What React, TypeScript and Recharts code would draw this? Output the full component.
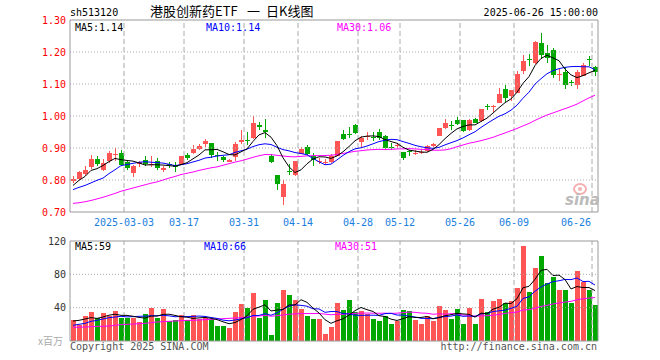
import React from 'react';
import { ComposedChart, Bar, Line, XAxis, YAxis, ReferenceLine } from 'recharts';

const RED = '#ff5555';
const GREEN = '#00a800';
const MONO = '"DejaVu Sans Mono", monospace';
const CJK = '"Noto Sans CJK SC", sans-serif';

const dates = [
  '02-18','02-19','02-20','02-21','02-24','02-25','02-26','02-27','02-28',
  '03-03','03-04','03-05','03-06','03-07','03-10','03-11','03-12','03-13','03-14',
  '03-17','03-18','03-19','03-20','03-21','03-24','03-25','03-26','03-27','03-28',
  '03-31','04-01','04-02','04-03','04-07','04-08','04-09','04-10','04-11',
  '04-14','04-15','04-16','04-17','04-18','04-21','04-22','04-23','04-24','04-25',
  '04-28','04-29','04-30','05-06','05-07','05-08','05-09',
  '05-12','05-13','05-14','05-15','05-16','05-19','05-20','05-21','05-22','05-23',
  '05-26','05-27','05-28','05-29','05-30','06-03','06-04','06-05','06-06',
  '06-09','06-10','06-11','06-12','06-13','06-16','06-17','06-18','06-19','06-20',
  '06-23','06-24','06-25','06-26',
];

const opens = [
  0.798,0.804,0.820,0.840,0.867,0.830,0.860,0.877,0.884,0.855,
  0.822,0.851,0.864,0.847,0.860,0.830,0.850,0.848,0.848,0.879,
  0.884,0.898,0.914,0.916,0.877,0.871,0.857,0.872,0.918,0.924,
  0.931,0.971,0.955,0.874,0.815,0.747,0.828,0.815,0.882,0.903,
  0.876,0.857,0.855,0.857,0.876,0.944,0.945,0.971,0.919,0.934,
  0.935,0.950,0.939,0.904,0.907,0.888,0.890,0.882,0.884,0.890,
  0.905,0.939,0.962,0.972,0.989,0.986,0.955,0.991,0.983,1.031,
  1.029,1.041,1.084,1.061,1.072,1.140,1.178,1.166,1.228,1.197,
  1.205,1.127,1.137,1.106,1.098,1.124,1.178,1.152,
];
const highs = [
  0.812,0.827,0.845,0.877,0.874,0.867,0.890,0.900,0.895,0.864,
  0.848,0.860,0.874,0.876,0.869,0.845,0.855,0.856,0.876,0.884,
  0.910,0.913,0.929,0.916,0.888,0.876,0.867,0.920,0.957,0.950,
  0.999,0.981,0.991,0.882,0.815,0.801,0.850,0.860,0.903,0.908,
  0.884,0.869,0.866,0.881,0.921,0.957,0.965,0.976,0.936,0.949,
  0.949,0.959,0.942,0.916,0.917,0.888,0.895,0.893,0.893,0.910,
  0.916,0.964,0.991,0.983,0.997,0.986,0.991,0.994,1.023,1.039,
  1.035,1.088,1.098,1.082,1.140,1.192,1.195,1.233,1.259,1.221,
  1.213,1.147,1.153,1.114,1.143,1.166,1.189,1.155,
];
const lows = [
  0.792,0.801,0.811,0.835,0.843,0.827,0.853,0.858,0.843,0.832,
  0.809,0.840,0.843,0.841,0.830,0.825,0.838,0.825,0.848,0.864,
  0.882,0.895,0.903,0.869,0.860,0.856,0.855,0.858,0.914,0.910,
  0.928,0.955,0.931,0.853,0.768,0.723,0.817,0.811,0.882,0.879,
  0.843,0.850,0.848,0.853,0.874,0.926,0.931,0.945,0.903,0.926,
  0.923,0.926,0.895,0.895,0.900,0.864,0.876,0.878,0.880,0.887,
  0.903,0.937,0.959,0.957,0.973,0.949,0.952,0.978,0.980,1.018,
  1.011,1.041,1.043,1.046,1.072,1.131,1.157,1.164,1.178,1.166,
  1.119,1.108,1.084,1.093,1.084,1.124,1.157,1.124,
];
const closes = [
  0.803,0.824,0.832,0.867,0.851,0.853,0.884,0.882,0.848,0.838,
  0.843,0.855,0.851,0.851,0.838,0.838,0.847,0.841,0.876,0.869,
  0.898,0.907,0.921,0.877,0.875,0.861,0.864,0.914,0.926,0.921,
  0.978,0.966,0.949,0.855,0.788,0.789,0.825,0.860,0.897,0.882,
  0.864,0.860,0.857,0.874,0.921,0.929,0.942,0.947,0.931,0.937,
  0.932,0.931,0.900,0.901,0.910,0.869,0.887,0.885,0.887,0.905,
  0.914,0.962,0.978,0.969,0.976,0.952,0.986,0.978,1.023,1.028,
  1.031,1.070,1.056,1.082,1.132,1.171,1.174,1.230,1.192,1.182,
  1.129,1.131,1.098,1.103,1.139,1.160,1.175,1.136,
];
const volumes = [
  24.8,18.8,29.6,34.4,28,33.2,29.6,35.6,27.6,27.6,
  28,22.4,32,39.2,28,38,23.6,24.8,30.8,25.6,
  30.8,26.8,27.2,26,17.6,17.6,15.2,34.4,44,39.6,
  57.4,27.6,48.8,6.8,45.2,60.8,54.8,48.8,38,29.6,
  26,26,8,16.4,45.2,36.8,48.8,34.8,35.6,32,
  26,23.6,29.6,20,24,36.8,35.6,24.8,20,29.6,
  23.6,41.6,36.8,26,38,20,39.2,20,50,34.4,
  47.6,50,45.2,47.6,63.2,113.6,58.4,87.2,101.6,69.2,
  76.4,60.8,60.8,45.2,83.6,70.4,60.8,42.8,
];

// moving-average values for the first days (window not yet full)
const ma5PriceLead = [0.783, 0.799, 0.811, 0.830];
const ma10PriceLead = [0.770, 0.777, 0.783, 0.791, 0.799, 0.806, 0.820, 0.832, 0.845];
const ma30PriceLead = [
  0.727,0.729,0.732,0.736,0.741,0.746,0.752,0.758,0.765,0.770,
  0.775,0.780,0.785,0.790,0.794,0.800,0.806,0.811,0.817,0.821,
  0.825,0.830,0.834,0.838,0.841,0.846,0.851,0.856,0.860,
];
const ma5VolLead = [24, 24.8, 26.4, 28];
const ma10VolLead = [18.8, 20, 21.2, 23.6, 24.8, 26.4, 28, 28.8, 29.6];
const ma30VolLead = [
  16.4,16.6,16.8,17.2,17.6,17.6,18.0,18.8,19.6,20.0,
  20.4,20.8,21.2,22.0,22.8,23.2,23.6,24.0,24.4,24.8,
  24.8,25.2,25.6,26.0,26.4,26.8,27.2,27.6,28.0,
];

const priceTicks = [0.7, 0.8, 0.9, 1.0, 1.1, 1.2, 1.3];
const priceGrid = [0.8, 0.9, 1.0, 1.1, 1.2];
const volTicks = [40, 80, 120];
const volGrid = [40, 80];
const dateTicks = ['03-03','03-17','03-31','04-14','04-28','05-12','05-26','06-09','06-26'];
const dateTickLabels = ['2025-03-03','03-17','03-31','04-14','04-28','05-12','05-26','06-09','06-26'];

const titleParts = ['港股创新药ETF', '一', '日K线图'];
const priceLegend = ['MA5:1.14', 'MA10:1.14', 'MA30:1.06'];
const volLegend = ['MA5:59', 'MA10:66', 'MA30:51'];

function movingAverage(values: number[], n: number, lead: number[]) {
  return values.map((_, i) => {
    if (i < n - 1) return lead[i];
    let s = 0;
    for (let k = i - n + 1; k <= i; k++) s += values[k];
    return s / n;
  });
}

const pMa5 = movingAverage(closes, 5, ma5PriceLead);
const pMa10 = movingAverage(closes, 10, ma10PriceLead);
const pMa30 = movingAverage(closes, 30, ma30PriceLead);
const vMa5 = movingAverage(volumes, 5, ma5VolLead);
const vMa10 = movingAverage(volumes, 10, ma10VolLead);
const vMa30 = movingAverage(volumes, 30, ma30VolLead);

const priceData = dates.map((d, i) => ({
  date: d,
  range: [lows[i], highs[i]],
  open: opens[i], close: closes[i], high: highs[i], low: lows[i],
  ma5: pMa5[i], ma10: pMa10[i], ma30: pMa30[i],
}));
const volData = dates.map((d, i) => ({
  date: d,
  vol: volumes[i],
  up: closes[i] >= opens[i],
  ma5: vMa5[i], ma10: vMa10[i], ma30: vMa30[i],
}));

function CandleShape(props: any) {
  const { x, y, width, height, payload } = props;
  if (x == null || payload == null) return null;
  const { open, close, high, low } = payload;
  const color = close >= open ? RED : GREEN;
  const top = Math.min(y, y + height);
  const h = Math.abs(height);
  const span = high - low;
  const toPx = (v: number) => (span > 0 ? top + ((high - v) / span) * h : top);
  const left = Math.floor(x + width / 2 - 2.5);
  const bTop = Math.round(Math.min(toPx(open), toPx(close)));
  const bBot = Math.round(Math.max(toPx(open), toPx(close)));
  const wTop = Math.round(top);
  const wBot = Math.round(top + h);
  return (
    <g shapeRendering="crispEdges">
      <rect x={left + 2} y={wTop} width={1} height={Math.max(1, wBot - wTop)} fill={color} />
      <rect x={left} y={bTop} width={5} height={Math.max(1, bBot - bTop)} fill={color} />
    </g>
  );
}

function VolShape(props: any) {
  const { x, y, width, height, payload } = props;
  if (x == null || payload == null) return null;
  const left = Math.floor(x + width / 2 - 2.5);
  const t = Math.round(Math.min(y, y + height));
  const b = Math.round(Math.max(y, y + height));
  return (
    <rect shapeRendering="crispEdges" x={left} y={t} width={5} height={Math.max(0, b - t)}
      fill={payload.up ? RED : GREEN} />
  );
}

function DateTick(props: any) {
  const { x, payload } = props;
  const idx = dateTicks.indexOf(payload.value);
  const label = idx >= 0 ? dateTickLabels[idx] : payload.value;
  const cx = x - 3;
  const w = label.length * 6.02;
  let anchor: any = 'middle';
  let tx = cx;
  if (cx + w / 2 > 591) { anchor = 'end'; tx = 591; }
  return (
    <text x={tx} y={225.5} textAnchor={anchor} fill="#1a80e0" fontFamily={MONO} fontSize={10}>{label}</text>
  );
}

function PriceTick(props: any) {
  const { y, payload } = props;
  return (
    <text x={66} y={y + 3.5} textAnchor="end" fill="#ff0000" fontFamily={MONO} fontSize={10}>
      {Number(payload.value).toFixed(2)}
    </text>
  );
}

function VolTick(props: any) {
  const { y, payload } = props;
  return (
    <text x={66} y={y + 3.5} textAnchor="end" fill="#333" fontFamily={MONO} fontSize={10}>
      {payload.value}
    </text>
  );
}

const FRAME = '#999';
const GRIDC = '#aaa';

export default function App() {
  return (
    <div style={{ position: 'absolute', left: 0, top: 0, width: 660, height: 360, background: '#fff' }}>
      <div style={{ position: 'absolute', left: 0, top: 0 }}>
        <ComposedChart width={660} height={242} data={priceData}
          margin={{ top: 20, right: 62, bottom: 0, left: 0 }}>
          <XAxis dataKey="date" ticks={dateTicks} interval={0} tick={<DateTick />}
            axisLine={false} tickLine={false} height={30} />
          <YAxis type="number" domain={[0.7, 1.3]} ticks={priceTicks} width={70}
            axisLine={false} tickLine={false} tick={<PriceTick />} allowDataOverflow />
          {priceGrid.map((v) => (
            <ReferenceLine key={'pg' + v} y={v} stroke={GRIDC} strokeDasharray="1 2" />
          ))}
          {dateTicks.map((d) => (
            <ReferenceLine key={'pv' + d} x={d} position="start" stroke={GRIDC} strokeDasharray="5 3" />
          ))}
          <ReferenceLine y={1.3} stroke={FRAME} />
          <ReferenceLine y={0.7} stroke={FRAME} />
          <ReferenceLine x={dates[0]} position="start" stroke={FRAME} />
          <ReferenceLine x={dates[dates.length - 1]} position="end" stroke={FRAME} />
          <Bar dataKey="range" barSize={5} shape={<CandleShape />} isAnimationActive={false} />
          <Line type="linear" dataKey="ma30" stroke="#ff00ff" strokeWidth={1} dot={false} isAnimationActive={false} />
          <Line type="linear" dataKey="ma10" stroke="#0000ff" strokeWidth={1} dot={false} isAnimationActive={false} />
          <Line type="linear" dataKey="ma5" stroke="#000000" strokeWidth={1} dot={false} isAnimationActive={false} />
        </ComposedChart>
      </div>
      <div style={{ position: 'absolute', left: 0, top: 230 }}>
        <ComposedChart width={660} height={130} data={volData}
          margin={{ top: 11, right: 62, bottom: 19, left: 0 }}>
          <XAxis dataKey="date" hide />
          <YAxis type="number" domain={[0, 120]} ticks={volTicks} width={70}
            axisLine={false} tickLine={false} tick={<VolTick />} allowDataOverflow />
          {volGrid.map((v) => (
            <ReferenceLine key={'vg' + v} y={v} stroke={GRIDC} strokeDasharray="1 2" />
          ))}
          {dateTicks.map((d) => (
            <ReferenceLine key={'vv' + d} x={d} position="start" stroke={GRIDC} strokeDasharray="5 3" />
          ))}
          <ReferenceLine y={120} stroke={FRAME} />
          <ReferenceLine y={0} stroke={FRAME} />
          <ReferenceLine x={dates[0]} position="start" stroke={FRAME} />
          <ReferenceLine x={dates[dates.length - 1]} position="end" stroke={FRAME} />
          <Bar dataKey="vol" barSize={5} shape={<VolShape />} isAnimationActive={false} />
          <Line type="linear" dataKey="ma30" stroke="#ff00ff" strokeWidth={1} dot={false} isAnimationActive={false} />
          <Line type="linear" dataKey="ma10" stroke="#0000ff" strokeWidth={1} dot={false} isAnimationActive={false} />
          <Line type="linear" dataKey="ma5" stroke="#000000" strokeWidth={1} dot={false} isAnimationActive={false} />
        </ComposedChart>
      </div>
      <svg width={660} height={360} style={{ position: 'absolute', left: 0, top: 0, pointerEvents: 'none' }}>
        <text x={70} y={16} fontFamily={MONO} fontSize={10} fill="#000">sh513120</text>
        <text x={150} y={16} fontFamily={CJK} fontSize={13} fill="#000">{titleParts[0]}</text>
        <text x={247} y={16} fontFamily={CJK} fontSize={13} fill="#000">{titleParts[1]}</text>
        <text x={266} y={16} fontFamily={CJK} fontSize={13} fill="#000">{titleParts[2]}</text>
        <text x={598} y={16} textAnchor="end" fontFamily={MONO} fontSize={10} fill="#000">2025-06-26 15:00:00</text>

        <text x={75} y={30.5} fontFamily={MONO} fontSize={10} fill="#000">{priceLegend[0]}</text>
        <text x={206} y={30.5} fontFamily={MONO} fontSize={10} fill="#0000ff">{priceLegend[1]}</text>
        <text x={337} y={30.5} fontFamily={MONO} fontSize={10} fill="#ff00ff">{priceLegend[2]}</text>

        <text x={75} y={250} fontFamily={MONO} fontSize={10} fill="#000">{volLegend[0]}</text>
        <text x={204} y={250} fontFamily={MONO} fontSize={10} fill="#0000ff">{volLegend[1]}</text>
        <text x={335} y={250} fontFamily={MONO} fontSize={10} fill="#ff00ff">{volLegend[2]}</text>

        <text x={38} y={345} fontFamily={CJK} fontSize={10} fill="#aaa">x百万</text>
        <text x={70} y={349.5} fontFamily={MONO} fontSize={10} fill="#555">Copyright 2025 SINA.COM</text>
        <text x={597} y={349.5} textAnchor="end" fontFamily={MONO} fontSize={10} fill="#555">http://finance.sina.com.cn</text>

        <ellipse cx={580} cy={189} rx={6} ry={5} fill="none" stroke="#f4b0b0" strokeWidth={2} />
        <circle cx={580} cy={189} r={2} fill="#f4b0b0" />
        <text x={565} y={205} fontFamily='"DejaVu Sans", sans-serif' fontStyle="italic" fontWeight="bold"
          fontSize={15} fill="#bbb">sina</text>
      </svg>
    </div>
  );
}
